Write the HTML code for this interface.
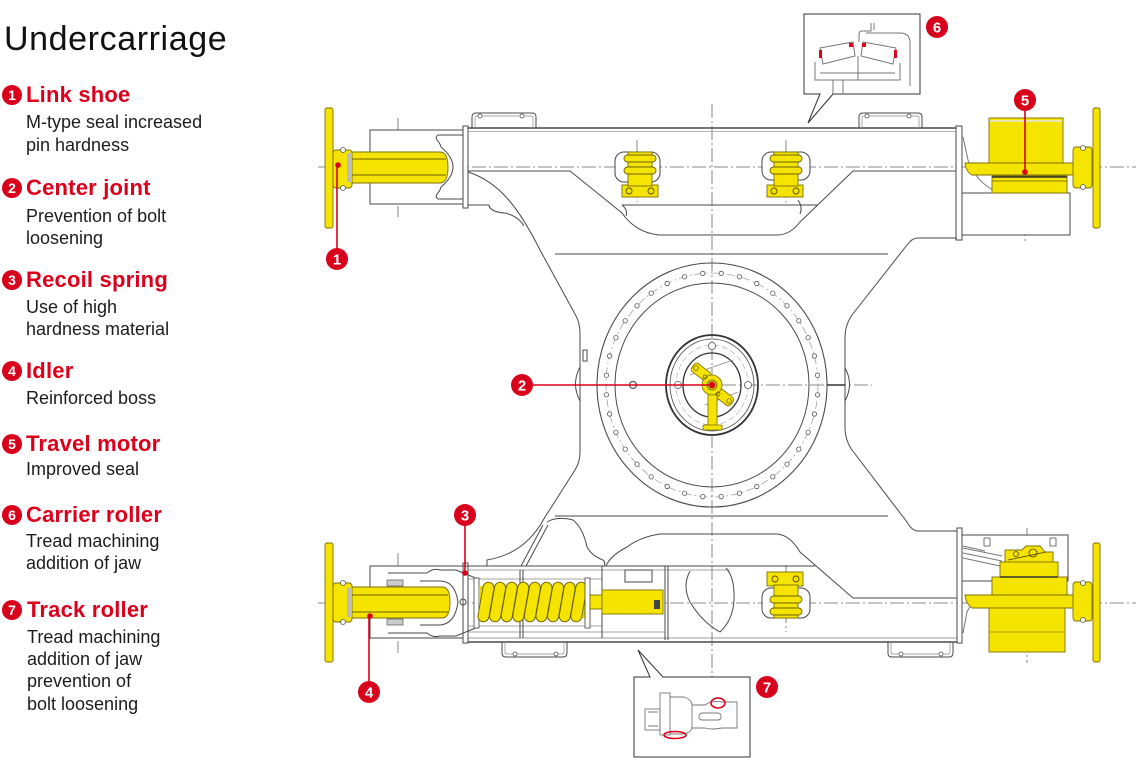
<!DOCTYPE html>
<html><head><meta charset="utf-8"><style>
html,body{margin:0;padding:0;background:#fff;}
svg{display:block;}
</style></head><body>
<svg width="1140" height="758" viewBox="0 0 1140 758" xmlns="http://www.w3.org/2000/svg" font-family="'Liberation Sans', Arial, sans-serif">
<rect width="1140" height="758" fill="#fff"/>

<!-- ===== LEGEND ===== -->
<text x="4" y="50" font-size="34" letter-spacing="0.6" fill="#111">Undercarriage</text>

<g fill="#d9001b">
<circle cx="12" cy="95" r="10"/><circle cx="12" cy="188" r="10"/><circle cx="12" cy="280" r="10"/>
<circle cx="12" cy="371" r="10"/><circle cx="12" cy="444" r="10"/><circle cx="12" cy="515" r="10"/>
<circle cx="12" cy="610" r="10"/>
</g>
<g fill="#fff" font-size="14" font-weight="bold" text-anchor="middle">
<text x="12" y="100">1</text><text x="12" y="193">2</text><text x="12" y="285">3</text>
<text x="12" y="376">4</text><text x="12" y="449">5</text><text x="12" y="520">6</text>
<text x="12" y="615">7</text>
</g>
<g fill="#dc001b" font-size="22" font-weight="bold" letter-spacing="0.2">
<text x="26" y="102">Link shoe</text>
<text x="26" y="195">Center joint</text>
<text x="26" y="287">Recoil spring</text>
<text x="26" y="378">Idler</text>
<text x="26" y="451">Travel motor</text>
<text x="26" y="522">Carrier roller</text>
<text x="27" y="617">Track roller</text>
</g>
<g fill="#1c1c1c" font-size="18">
<text x="26" y="128">M-type seal increased</text>
<text x="26" y="151">pin hardness</text>
<text x="26" y="222">Prevention of bolt</text>
<text x="26" y="244">loosening</text>
<text x="26" y="313">Use of high</text>
<text x="26" y="335">hardness material</text>
<text x="26" y="404">Reinforced boss</text>
<text x="26" y="475">Improved seal</text>
<text x="26" y="547">Tread machining</text>
<text x="26" y="569">addition of jaw</text>
<text x="27" y="643">Tread machining</text>
<text x="27" y="665">addition of jaw</text>
<text x="27" y="687">prevention of</text>
<text x="27" y="710">bolt loosening</text>
</g>

<!-- ===== CENTER LINES ===== -->
<g fill="none" stroke="#666" stroke-width="0.8" stroke-dasharray="14 3 2 3">
<path d="M318,167 H1136"/>
<path d="M318,603 H1136"/>
<path d="M590,385 H872"/>
<path d="M712,104 V680"/>
<path d="M398,118 V217"/>
<path d="M398,553 V653"/>
<path d="M637,140 V202"/>
<path d="M786,140 V202"/>
<path d="M786,565 V632"/>
<path d="M1025,112 V244"/>
<path d="M1027,528 V663"/>
</g>

<!-- ===== FRAME ===== -->
<g fill="none" stroke="#4a4a4a" stroke-width="1">
<!-- top beam -->
<path d="M468,128 H956" stroke-width="1.4"/>
<path d="M468,131.5 H956" stroke="#9a9a9a" stroke-width="0.7"/>
<rect x="463" y="126" width="5" height="82" fill="#fff"/>
<rect x="956" y="126" width="6" height="114" fill="#fff"/>
<path d="M468,171 H570 L622,213 Q636,233 660,235 H777 Q790,235 800,222 L853,171 H956"/>
<path d="M468,205 H489 M622,205 H817"/>
<path d="M489,205 Q490,212 505,213 Q518,216 524,226"/>
<path d="M622,205 Q628,210 626,216"/>
<path d="M798,200 Q803,207 800,214"/>
<!-- left X side -->
<path d="M468,172 C500,182 520,210 540,250 L575,314 Q580,322 580,334 V452 Q580,462 575,470 L545,517 C530,545 510,556 487,560 V566"/>
<path d="M580,367 Q571,384 580,401"/>
<rect x="583" y="350" width="4" height="11"/>
<!-- right X side -->
<path d="M957,238 H918 Q912,238 907,245 L852,315 Q845,325 845,338 V427 Q845,440 852,450 L907,522 Q912,531 918,531 H957"/>
<path d="M845,368 Q854,384 845,401"/>
<!-- horizontal lines -->
<path d="M555,254 H888 M555,516 H888"/>
<!-- bottom beam -->
<path d="M468,642 H957" stroke-width="1.4"/>
<path d="M468,638 H957" stroke="#777" stroke-width="0.8"/>
<rect x="463" y="563" width="5" height="80" fill="#fff"/>
<rect x="957" y="528" width="5" height="115" fill="#fff"/>
<path d="M370,566 H815"/>
<path d="M468,570 H730" stroke="#888" stroke-width="0.7"/>
<path d="M547,522 Q557,516 573,520 Q583,528 587,547 Q592,556 603,560 Q606,563 604,566"/>
<path d="M606,566 Q610,556 627,547 Q640,537 660,534 H777 Q790,535 800,552 L853,598 H957"/>
<path d="M543,525 L521,566 M548,525 L526,566"/>
<path d="M690,571 Q682,586 690,602 Q702,622 720,632 Q733,620 734,600 Q735,578 726,568"/>
<!-- handles -->
<path d="M472,128 V117 Q472,113 476,113 H532 Q536,113 536,117 V128"/>
<path d="M475,128 V118 Q475,116 477,116 H531 Q533,116 533,118 V128" stroke="#888" stroke-width="0.7"/>
<path d="M859,128 V117 Q859,113 863,113 H918 Q922,113 922,117 V128"/>
<path d="M862,128 V118 Q862,116 864,116 H917 Q919,116 919,118 V128" stroke="#888" stroke-width="0.7"/>
<path d="M502,642 V653 Q502,657 506,657 H563 Q567,657 567,653 V642"/>
<path d="M505,642 V652 Q505,654 507,654 H562 Q564,654 564,652 V642" stroke="#888" stroke-width="0.7"/>
<path d="M888,642 V653 Q888,657 892,657 H949 Q953,657 953,653 V642"/>
<path d="M891,642 V652 Q891,654 893,654 H948 Q950,654 950,652 V642" stroke="#888" stroke-width="0.7"/>
</g>
<g fill="#fff" stroke="#555" stroke-width="0.8">
<circle cx="480" cy="116" r="2"/><circle cx="522" cy="116" r="2"/>
<circle cx="867" cy="116" r="2"/><circle cx="909" cy="116" r="2"/>
<circle cx="515" cy="654" r="2"/><circle cx="556" cy="654" r="2"/>
<circle cx="901" cy="654" r="2"/><circle cx="941" cy="654" r="2"/>
</g>

<!-- ===== SWING CIRCLE ===== -->
<g fill="none" stroke="#4a4a4a">
<ellipse cx="712" cy="385" rx="115" ry="122" stroke-width="1.1"/>
<ellipse cx="712" cy="385" rx="97" ry="102" stroke-width="1"/>
<ellipse cx="712" cy="385" rx="106" ry="112" stroke="#999" stroke-width="0.7" stroke-dasharray="8 3 2 3"/>
<ellipse cx="712" cy="385" rx="46" ry="50" stroke-width="1.8" stroke="#333"/>
<ellipse cx="712" cy="385" rx="42" ry="46" stroke-width="0.8"/>
<ellipse cx="712" cy="385" rx="36" ry="40" stroke="#aaa" stroke-width="0.6" stroke-dasharray="6 3"/>
<ellipse cx="712" cy="385" rx="29" ry="32" stroke-width="1.3" stroke="#333"/>
<path d="M827,385 H845" stroke-width="1.6" stroke="#333"/>
</g>
<g fill="#fff" stroke="#555" stroke-width="0.8">
<circle cx="721.2" cy="273.4" r="2.2"/><circle cx="739.4" cy="276.8" r="2.2"/><circle cx="756.8" cy="283.5" r="2.2"/><circle cx="772.8" cy="293.2" r="2.2"/><circle cx="787" cy="305.8" r="2.2"/><circle cx="798.8" cy="320.8" r="2.2"/><circle cx="808.1" cy="337.7" r="2.2"/><circle cx="814.4" cy="356" r="2.2"/><circle cx="817.6" cy="375.2" r="2.2"/>
<circle cx="817.6" cy="394.8" r="2.2"/><circle cx="814.4" cy="414" r="2.2"/><circle cx="808.1" cy="432.3" r="2.2"/><circle cx="798.8" cy="449.2" r="2.2"/><circle cx="787" cy="464.2" r="2.2"/><circle cx="772.8" cy="476.8" r="2.2"/><circle cx="756.8" cy="486.5" r="2.2"/><circle cx="739.4" cy="493.2" r="2.2"/><circle cx="721.2" cy="496.6" r="2.2"/>
<circle cx="702.8" cy="496.6" r="2.2"/><circle cx="684.6" cy="493.2" r="2.2"/><circle cx="667.2" cy="486.5" r="2.2"/><circle cx="651.2" cy="476.8" r="2.2"/><circle cx="637" cy="464.2" r="2.2"/><circle cx="625.2" cy="449.2" r="2.2"/><circle cx="615.9" cy="432.3" r="2.2"/><circle cx="609.6" cy="414" r="2.2"/><circle cx="606.4" cy="394.8" r="2.2"/>
<circle cx="606.4" cy="375.2" r="2.2"/><circle cx="609.6" cy="356" r="2.2"/><circle cx="615.9" cy="337.7" r="2.2"/><circle cx="625.2" cy="320.8" r="2.2"/><circle cx="637" cy="305.8" r="2.2"/><circle cx="651.2" cy="293.2" r="2.2"/><circle cx="667.2" cy="283.5" r="2.2"/><circle cx="684.6" cy="276.8" r="2.2"/><circle cx="702.8" cy="273.4" r="2.2"/>
<circle cx="712" cy="346" r="3.5"/><circle cx="678" cy="385" r="3.5"/><circle cx="748" cy="385" r="3.5"/><circle cx="633" cy="385" r="3.5" stroke-width="1.2"/>
</g>
<path d="M690,375 L733,360 M705,405 L738,392" fill="none" stroke="#888" stroke-width="0.7"/>
<!-- center joint yellow -->
<g fill="#f5e300" stroke="#7d6f00" stroke-width="0.8">
<rect x="691" y="367" width="20" height="10" rx="3" transform="rotate(38 701 372)"/>
<rect x="714" y="392" width="20" height="10" rx="3" transform="rotate(38 724 397)"/>
<rect x="708" y="394" width="9" height="32"/>
<rect x="703" y="425" width="19" height="5" rx="1"/>
<circle cx="712" cy="385" r="10"/>
<circle cx="712" cy="385" r="5" fill="#c8b800"/>
</g>
<g fill="none" stroke="#5a5000" stroke-width="0.7">
<circle cx="696" cy="368" r="2.3"/><circle cx="729" cy="401" r="2.3"/><circle cx="718" cy="394" r="2"/><circle cx="705" cy="377" r="2"/>
</g>

<!-- ===== TOP-LEFT LINK SHOE ===== -->
<g fill="none" stroke="#4a4a4a" stroke-width="1">
<rect x="370" y="130" width="93" height="74" fill="#fff"/>
<path d="M463,135 H438 Q435,137 437,140 Q440,143 441,147 Q453,157 453,167 Q453,177 441,187 Q440,191 437,194 Q435,197 438,199 H463"/>
</g>
<g fill="#f5e300" stroke="#7d6f00" stroke-width="0.9">
<rect x="325" y="108" width="8" height="120" rx="2"/>
<rect x="333" y="150" width="19" height="38" rx="3"/>
<path d="M352,152 H440 Q448,152 448,167 Q448,183 440,183 H352 Z"/>
</g>
<path d="M352,159 H446 M352,175 H446" stroke="#6b6000" stroke-width="1"/>
<rect x="347" y="153" width="5" height="29" fill="#bbb"/>
<g fill="#fff" stroke="#555" stroke-width="0.8"><circle cx="343" cy="150" r="2.5"/><circle cx="343" cy="188" r="2.5"/></g>

<!-- ===== BOTTOM-LEFT IDLER / SPRING ===== -->
<g fill="none" stroke="#4a4a4a" stroke-width="1">
<rect x="370" y="566" width="93" height="72" fill="#fff"/>
<path d="M388,573 H427 Q433,568 440,570 H456 L478,579"/>
<path d="M388,633 H427 Q433,638 440,636 H456 L478,627"/>
<path d="M420,581 H440 Q455,581 458,602 Q455,624 440,625 H420"/>
<path d="M468,579 H602 M468,626 H602" stroke="#888" stroke-width="0.7"/>
<path d="M468,632 H665" stroke="#888" stroke-width="0.7"/>
<path d="M520,570 V638 M523,570 V638 M602,566 V638 M665,566 V640 M668,566 V640"/>
<rect x="625" y="570" width="27" height="12" fill="#fff"/>
<circle cx="463" cy="602" r="3"/>
</g>
<g fill="#ccc" stroke="#555" stroke-width="0.7">
<rect x="387" y="580" width="16" height="6"/><rect x="387" y="619" width="16" height="6"/>
</g>
<g fill="#f5e300" stroke="#7d6f00" stroke-width="0.9">
<rect x="325" y="543" width="8" height="119" rx="2"/>
<rect x="333" y="583" width="19" height="39" rx="3"/>
<path d="M352,587 H442 Q450,587 450,602 Q450,618 442,618 H352 Z"/>
</g>
<path d="M352,595 H448 M352,612 H448" stroke="#6b6000" stroke-width="1"/>
<rect x="347" y="588" width="5" height="29" fill="#bbb"/>
<g fill="#fff" stroke="#555" stroke-width="0.8"><circle cx="343" cy="583" r="2.5"/><circle cx="343" cy="622" r="2.5"/></g>
<!-- spring -->
<rect x="474" y="578" width="5" height="50" fill="#fff" stroke="#555" stroke-width="0.9"/>
<rect x="479" y="586" width="106" height="32" fill="#e9d600"/>
<g fill="#f5e300" stroke="#6b6000" stroke-width="0.9">
<rect x="-5.5" y="-20" width="11" height="40" rx="5.5" transform="translate(486,602) rotate(10)"/>
<rect x="-5.5" y="-20" width="11" height="40" rx="5.5" transform="translate(497.6,602) rotate(10)"/>
<rect x="-5.5" y="-20" width="11" height="40" rx="5.5" transform="translate(509.2,602) rotate(10)"/>
<rect x="-5.5" y="-20" width="11" height="40" rx="5.5" transform="translate(520.8,602) rotate(10)"/>
<rect x="-5.5" y="-20" width="11" height="40" rx="5.5" transform="translate(532.4,602) rotate(10)"/>
<rect x="-5.5" y="-20" width="11" height="40" rx="5.5" transform="translate(544,602) rotate(10)"/>
<rect x="-5.5" y="-20" width="11" height="40" rx="5.5" transform="translate(555.6,602) rotate(10)"/>
<rect x="-5.5" y="-20" width="11" height="40" rx="5.5" transform="translate(567.2,602) rotate(10)"/>
<rect x="-5.5" y="-20" width="11" height="40" rx="5.5" transform="translate(578.8,602) rotate(10)"/>
</g>
<rect x="585" y="578" width="5" height="50" fill="#fff" stroke="#555" stroke-width="0.9"/>
<g fill="#f5e300" stroke="#7d6f00" stroke-width="0.9">
<rect x="590" y="595" width="12" height="14"/>
<rect x="602" y="590" width="61" height="24"/>
</g>
<rect x="654" y="600" width="6" height="9" fill="#444"/>

<!-- ===== ROLLERS ===== -->
<g>
<!-- top roller 1 -->
<rect x="615" y="152" width="45" height="30" rx="9" fill="#fff" stroke="#444"/>
<rect x="622" y="185" width="36" height="12" fill="#f5e300" stroke="#7d6f00" stroke-width="0.9"/>
<rect x="628" y="152" width="24" height="34" fill="#f5e300" stroke="#7d6f00" stroke-width="0.9"/>
<rect x="624" y="155" width="32" height="7" rx="3.5" fill="#f5e300" stroke="#6b6000" stroke-width="0.9"/>
<rect x="624" y="167" width="32" height="7" rx="3.5" fill="#f5e300" stroke="#6b6000" stroke-width="0.9"/>
<circle cx="629" cy="191" r="3" fill="none" stroke="#5a5000" stroke-width="0.9"/>
<circle cx="651" cy="191" r="3" fill="none" stroke="#5a5000" stroke-width="0.9"/>
<!-- top roller 2 -->
<rect x="762" y="152" width="48" height="28" rx="9" fill="#fff" stroke="#444"/>
<rect x="767" y="185" width="36" height="12" fill="#f5e300" stroke="#7d6f00" stroke-width="0.9"/>
<rect x="774" y="152" width="24" height="34" fill="#f5e300" stroke="#7d6f00" stroke-width="0.9"/>
<rect x="770" y="155" width="32" height="7" rx="3.5" fill="#f5e300" stroke="#6b6000" stroke-width="0.9"/>
<rect x="770" y="167" width="32" height="7" rx="3.5" fill="#f5e300" stroke="#6b6000" stroke-width="0.9"/>
<circle cx="774" cy="191" r="3" fill="none" stroke="#5a5000" stroke-width="0.9"/>
<circle cx="796" cy="191" r="3" fill="none" stroke="#5a5000" stroke-width="0.9"/>
<!-- bottom roller -->
<rect x="762" y="588" width="48" height="30" rx="9" fill="#fff" stroke="#444"/>
<rect x="767" y="572" width="36" height="14" fill="#f5e300" stroke="#7d6f00" stroke-width="0.9"/>
<rect x="774" y="585" width="24" height="33" fill="#f5e300" stroke="#7d6f00" stroke-width="0.9"/>
<rect x="770" y="596" width="32" height="7" rx="3.5" fill="#f5e300" stroke="#6b6000" stroke-width="0.9"/>
<rect x="770" y="608" width="32" height="7" rx="3.5" fill="#f5e300" stroke="#6b6000" stroke-width="0.9"/>
<circle cx="775" cy="579" r="3" fill="none" stroke="#5a5000" stroke-width="0.9"/>
<circle cx="796" cy="579" r="3" fill="none" stroke="#5a5000" stroke-width="0.9"/>
</g>

<!-- ===== TOP-RIGHT MOTOR ===== -->
<rect x="962" y="193" width="108" height="42" fill="#fff" stroke="#4a4a4a"/>
<path d="M963,137 L968,160 Q975,180 993,190" fill="none" stroke="#777" stroke-width="1"/>
<g fill="#f5e300" stroke="#7d6f00" stroke-width="0.9">
<rect x="989" y="118" width="74" height="45"/>
<rect x="992" y="176" width="75" height="17"/>
<path d="M965,163 H1088 V175 H972 Q966,172 965,163 Z"/>
<rect x="1073" y="147" width="19" height="41" rx="3"/>
<rect x="1093" y="108" width="7" height="120" rx="2"/>
</g>
<path d="M990,121 H1062" stroke="#e8e6b0" stroke-width="2"/>
<path d="M992,177 H1067" stroke="#333" stroke-width="1.6"/>
<path d="M992,181 H1067" stroke="#6b6000" stroke-width="0.8"/>
<g fill="#fff" stroke="#555" stroke-width="0.8"><circle cx="1083" cy="148" r="2.5"/><circle cx="1083" cy="187" r="2.5"/></g>

<!-- ===== BOTTOM-RIGHT MOTOR ===== -->
<rect x="962" y="535" width="106" height="46" fill="#fff" stroke="#4a4a4a"/>
<g fill="#fff" stroke="#555" stroke-width="0.8"><rect x="984" y="538" width="6" height="8"/><rect x="1050" y="538" width="6" height="8"/></g>
<path d="M963,548 L1002,556 M963,553 L1002,561 M963,558 L1000,566 M963,546 L985,551" stroke="#777" stroke-width="0.9" fill="none"/>
<path d="M963,633 L967,612 Q973,598 990,595" fill="none" stroke="#777" stroke-width="1"/>
<g fill="#f5e300" stroke="#7d6f00" stroke-width="0.9">
<path d="M1005,550 H1022 L1026,546 H1040 L1045,552 H1053 V563 H1005 Z"/>
<rect x="1000" y="562" width="58" height="15"/>
<rect x="992" y="577" width="75" height="18"/>
<path d="M965,595 H1088 V608 H972 Q966,604 965,595 Z"/>
<rect x="989" y="608" width="76" height="44"/>
<rect x="1073" y="582" width="19" height="39" rx="3"/>
<rect x="1093" y="543" width="7" height="119" rx="2"/>
</g>
<g fill="none" stroke="#4a4000" stroke-width="0.8"><circle cx="1033" cy="553" r="4"/><circle cx="1016" cy="554" r="2.5"/><path d="M1008,560 L1046,552"/></g>
<path d="M1000,577 H1058" stroke="#333" stroke-width="1.4"/>
<path d="M990,632 H1064" stroke="#6b6000" stroke-width="0.6"/>
<g fill="#fff" stroke="#555" stroke-width="0.8"><circle cx="1083" cy="583" r="2.5"/><circle cx="1083" cy="620" r="2.5"/></g>

<!-- ===== CALLOUT 6 ===== -->
<rect x="804" y="14" width="116" height="80" fill="#fff" stroke="#333" stroke-width="1"/>
<path d="M820,94 L808,123 L833,94" fill="#fff" stroke="#333" stroke-width="1"/>
<path d="M821,94 H832" stroke="#fff" stroke-width="2"/>
<g fill="none" stroke="#777" stroke-width="1">
<path d="M871,23 V31 H862 Q859,31 859,35 V42"/>
<path d="M866,33 H900 Q910,33 910,43 V86"/>
<path d="M874,23 V30"/>
<path d="M820,48 L853,42 L855,56 L823,64 Z"/>
<path d="M896,48 L863,42 L861,56 L893,64 Z"/>
<path d="M815,62 V80 H900 V63"/>
<path d="M820,73 H895"/>
<path d="M858,56 V80"/>
<path d="M833,80 V93 M843,80 V93"/>
</g>
<g fill="#e0001b">
<rect x="819" y="50" width="3" height="8"/><rect x="894" y="50" width="3" height="8"/>
<rect x="849" y="43" width="4" height="4"/><rect x="862" y="43" width="4" height="4"/>
</g>

<!-- ===== CALLOUT 7 ===== -->
<rect x="634" y="677" width="116" height="80" fill="#fff" stroke="#333" stroke-width="1"/>
<path d="M650,677 L638,650 L663,677" fill="#fff" stroke="#333" stroke-width="1"/>
<path d="M651,677 H662" stroke="#fff" stroke-width="2"/>
<g fill="none" stroke="#777" stroke-width="0.9">
<rect x="645" y="709" width="15" height="21"/>
<rect x="660" y="693" width="10" height="42"/>
<path d="M670,697 H684 Q692,700 692,705 V727 Q692,732 684,734 H670"/>
<path d="M692,705 H705 Q712,700 722,702 H737 V728 H722 Q712,730 705,728 H692"/>
<rect x="699" y="713" width="22" height="7" rx="3"/>
<path d="M648,712 H658 M648,726 H658"/>
</g>
<ellipse cx="675" cy="735" rx="11" ry="3.5" fill="none" stroke="#e0001b" stroke-width="1.6"/>
<ellipse cx="718" cy="703" rx="7" ry="5" fill="none" stroke="#e0001b" stroke-width="1.6"/>

<!-- ===== RED CALLOUTS ===== -->
<g stroke="#d9001b" stroke-width="1.6" fill="none">
<path d="M337,249 V165"/>
<path d="M532,385 H712"/>
<path d="M465,526 V573"/>
<path d="M369,681 V616"/>
<path d="M1025,111 V172"/>
</g>
<g fill="#d9001b">
<circle cx="338" cy="165" r="2.8"/><circle cx="712" cy="385" r="3.2"/><circle cx="465" cy="573" r="2.8"/>
<circle cx="370" cy="616" r="2.8"/><circle cx="1025" cy="172" r="2.8"/>
<circle cx="337" cy="259" r="11"/><circle cx="522" cy="385" r="11"/><circle cx="465" cy="515" r="11"/>
<circle cx="369" cy="692" r="11"/><circle cx="1025" cy="100" r="11"/><circle cx="937" cy="27" r="11"/>
<circle cx="767" cy="687" r="11"/>
</g>
<g fill="#fff" font-size="15" font-weight="bold" text-anchor="middle">
<text x="337" y="264.5">1</text><text x="522" y="390.5">2</text><text x="465" y="520.5">3</text>
<text x="369" y="697.5">4</text><text x="1025" y="105.5">5</text><text x="937" y="32.5">6</text>
<text x="767" y="692.5">7</text>
</g>
</svg>
</body></html>
